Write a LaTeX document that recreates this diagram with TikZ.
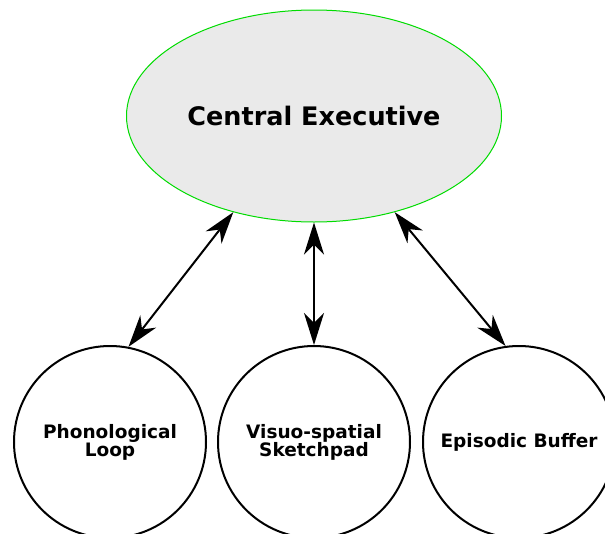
\documentclass[tikz,border=0pt]{standalone}
\usepackage{fontspec}
\setmainfont{DejaVu Sans}
\usetikzlibrary{shapes.geometric, arrows.meta}

\definecolor{exgreen}{RGB}{0,220,0}
\definecolor{exgray}{RGB}{234,234,234}

\begin{document}
\begin{tikzpicture}[
  x=1pt, y=-1pt,
  exec/.style={ellipse, draw=exgreen, fill=exgray, line width=1pt,
    minimum width=375pt, minimum height=212pt, inner sep=0pt,
    font=\fontsize{25.5}{28}\selectfont\bfseries},
  slave/.style={circle, draw, line width=2pt, minimum size=192pt, inner sep=0pt,
    align=center, font=\fontsize{18.5}{18}\selectfont\bfseries},
  link/.style={line width=2pt,
    {Stealth[length=32pt, width=20pt, inset=10pt]}-{Stealth[length=32pt, width=20pt, inset=10pt]}}
]
\useasboundingbox (0,0) rectangle (605,533);
\node[exec] (ce) at (314,116) {Central Executive};
\node[slave] (pl) at (110,442) {Phonological\\Loop};
\node[slave] (vs) at (314,442) {Visuo-spatial\\Sketchpad};
\node[slave] (eb) at (519,442) {Episodic Buffer};

\draw[link] (ce.230) -- (pl.79);
\draw[link] (ce.south) -- (vs.north);
\draw[link] (ce.310) -- (eb.98);
\end{tikzpicture}
\end{document}
